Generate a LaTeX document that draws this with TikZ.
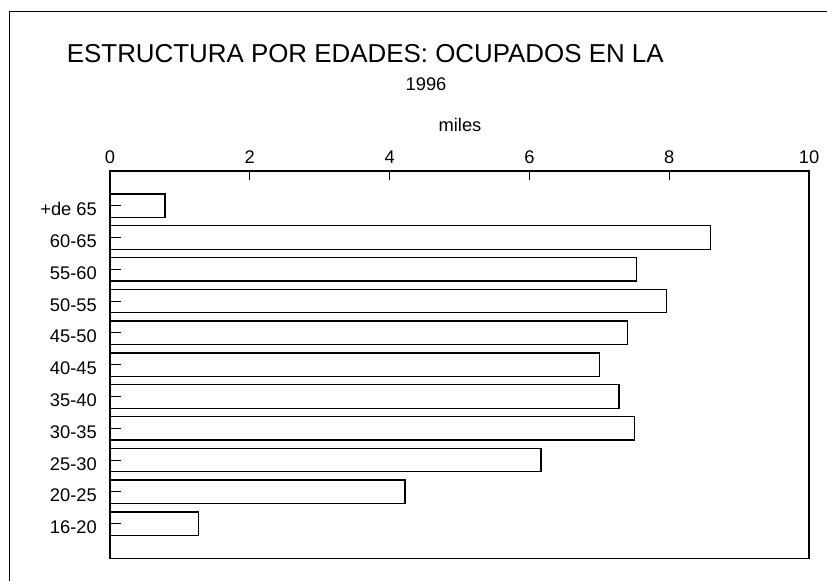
\documentclass[tikz,border=0pt]{standalone}
\usepackage{fontspec}
\setmainfont{Liberation Sans}
\usepackage{tikz}

\tikzset{bar/.style={draw=black, line width=1.3pt, fill=white},
         lbl/.style={font=\fontsize{18.3}{20}\selectfont, inner sep=0pt}}

\begin{document}
\begin{tikzpicture}[x=1pt,y=-1pt]
\useasboundingbox (0,0) rectangle (827,581);
\draw[line width=1pt] (9.5,581) -- (9.5,11.7) -- (827,11.7);

\node[anchor=base west, inner sep=0pt, font=\fontsize{25.9}{30}\selectfont] (title) at (66.7,62) {ESTRUCTURA POR EDADES: OCUPADOS EN LA};
\node[lbl, anchor=base] (year) at (426,90.5) {1996};
\node[lbl, anchor=base] (unit) at (460,131.5) {miles};

\foreach \i/\lab/\v in {0/+de 65/0.787, 1/60-65/8.594, 2/55-60/7.535, 3/50-55/7.964,
                        4/45-50/7.406, 5/40-45/7.0, 6/35-40/7.282, 7/30-35/7.506,
                        8/25-30/6.166, 9/20-25/4.22, 10/16-20/1.269} {
  \draw[bar] (110,{205.6+31.8*\i-11.75}) rectangle ({110+69.9*\v},{205.6+31.8*\i+11.75});
  \draw[line width=1pt] (110,{205.6+31.8*\i}) -- ++(11,0);
  \node[lbl, anchor=base east] (c\i) at (97,{215.6+31.8*\i}) {\lab};
}

\foreach \v in {0,2,...,10} {
  \draw[line width=1pt] ({110+69.9*\v},171) -- ++(0,9);
  \node[lbl, anchor=base] (t\v) at ({110+69.9*\v},163) {\v};
}

\draw[line width=1.3pt] (110,171) rectangle (809,558.3);
\end{tikzpicture}
\end{document}
